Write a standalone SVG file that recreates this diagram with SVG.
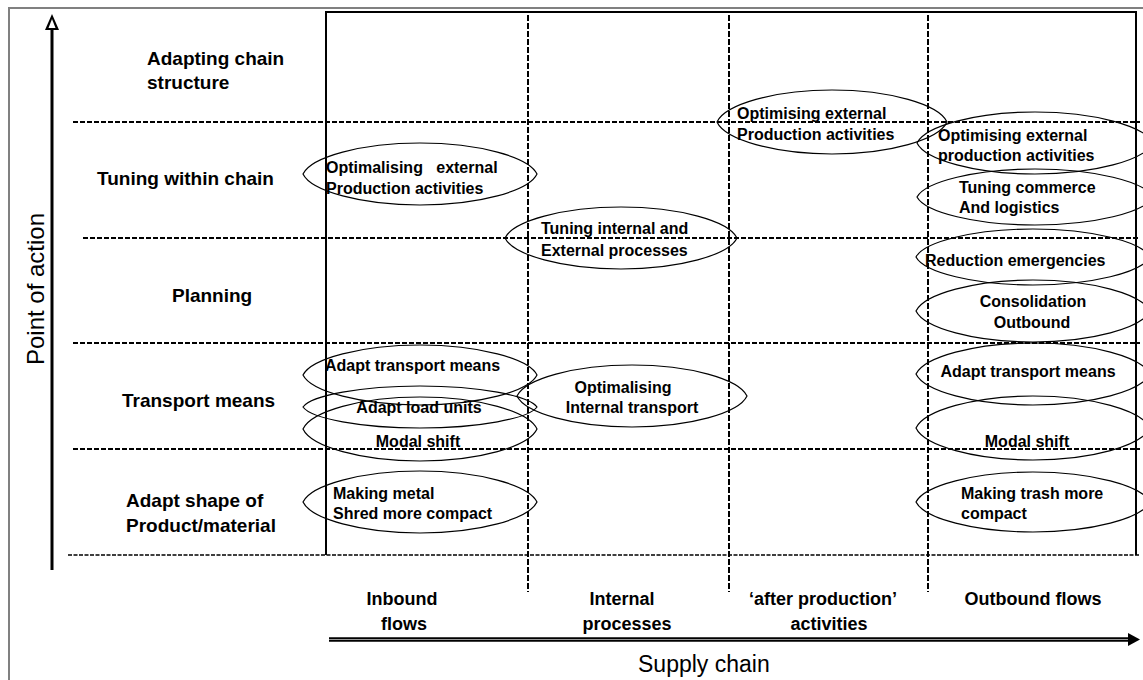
<svg xmlns="http://www.w3.org/2000/svg" xmlns:xlink="http://www.w3.org/1999/xlink" width="1143" height="680" viewBox="0 0 1143 680">
<style>
text{font-family:"Liberation Sans",Arial,sans-serif;fill:#000}
.row{font-size:19px;font-weight:bold}
.col{font-size:18px;font-weight:bold}
.el{font-size:16px;font-weight:bold}
.ax{font-size:23px}
.dash{stroke:#000;stroke-width:2.2;stroke-dasharray:5 2;fill:none}
.vdash{stroke:#000;stroke-width:2;stroke-dasharray:6 2;fill:none}
.lens{fill:none;stroke:#000;stroke-width:1.2}
</style>
<defs>
<path id="lens" d="M-1,0 C-0.93,-0.55 -0.5,-1 0,-1 C0.5,-1 0.93,-0.55 1,0 C0.93,0.55 0.5,1 0,1 C-0.5,1 -0.93,0.55 -1,0 Z" vector-effect="non-scaling-stroke"/>
</defs>
<rect x="0" y="0" width="1143" height="680" fill="#fff"/>
<rect x="9" y="8" width="1150" height="690" fill="none" stroke="#808080" stroke-width="2"/>
<g id="grid">
<path d="M326,12 H1136 M326,11 V555 M1136,11 V555" stroke="#000" stroke-width="2" fill="none"/>
<line class="dash" x1="73" y1="122" x2="1140" y2="122"/>
<line class="dash" x1="83" y1="238" x2="1140" y2="238"/>
<line class="dash" x1="73" y1="343" x2="1140" y2="343"/>
<line class="dash" x1="73" y1="449" x2="1140" y2="449"/>
<line x1="68" y1="555" x2="1140" y2="555" stroke="#000" stroke-width="1.3" stroke-dasharray="4 1.5"/>
<line class="vdash" x1="528" y1="15" x2="528" y2="592"/>
<line class="vdash" x1="729" y1="15" x2="729" y2="592"/>
<line class="vdash" x1="928" y1="15" x2="928" y2="592"/>
</g>
<g id="connectors">
<line x1="52" y1="570" x2="52" y2="27" stroke="#000" stroke-width="3"/>
<path d="M52,14 L59,30 L45,30 Z" fill="#000"/>
<path d="M52,19 L55.5,28 L48.5,28 Z" fill="#fff"/>
<line x1="329" y1="639.5" x2="1130" y2="639.5" stroke="#000" stroke-width="4.5"/>
<line x1="329" y1="639.5" x2="1130" y2="639.5" stroke="#999" stroke-width="1"/>
<path d="M1140,639.5 L1128,633 L1128,646 Z" fill="#000"/>
</g>
<g id="axis-labels">
<text class="ax" transform="translate(44,289) rotate(-90)" text-anchor="middle" style="font-size:24px">Point of action</text>
<text class="ax" x="638" y="672">Supply chain</text>
</g>
<g id="row-labels">
<text class="row" x="147" y="65">Adapting chain</text>
<text class="row" x="147" y="89">structure</text>
<text class="row" x="97" y="185">Tuning within chain</text>
<text class="row" x="172" y="302">Planning</text>
<text class="row" x="122" y="407">Transport means</text>
<text class="row" x="126" y="507">Adapt shape of</text>
<text class="row" x="126" y="532">Product/material</text>
</g>
<g id="col-labels">
<text class="col" x="402" y="605" text-anchor="middle">Inbound</text>
<text class="col" x="404" y="630" text-anchor="middle">flows</text>
<text class="col" x="622" y="605" text-anchor="middle">Internal</text>
<text class="col" x="627" y="630" text-anchor="middle">processes</text>
<text class="col" x="823" y="605" text-anchor="middle">‘after production’</text>
<text class="col" x="829" y="630" text-anchor="middle">activities</text>
<text class="col" x="1033" y="605" text-anchor="middle">Outbound flows</text>
</g>
<g id="n1"><use xlink:href="#lens" class="lens" transform="translate(420,174) scale(117,31)"/>
<text class="el" x="326" y="173" xml:space="preserve">Optimalising   external</text>
<text class="el" x="326" y="194">Production activities</text></g>
<g id="n2"><use xlink:href="#lens" class="lens" transform="translate(832,122) scale(115,32)"/>
<text class="el" x="737" y="119">Optimising external</text>
<text class="el" x="737" y="140">Production activities</text></g>
<g id="n3"><use xlink:href="#lens" class="lens" transform="translate(1035,143) scale(118,31)"/>
<text class="el" x="938" y="141">Optimising external</text>
<text class="el" x="938" y="161">production activities</text></g>
<g id="n4"><use xlink:href="#lens" class="lens" transform="translate(1035,197) scale(118,28)"/>
<text class="el" x="959" y="193">Tuning commerce</text>
<text class="el" x="959" y="213">And logistics</text></g>
<g id="n5"><use xlink:href="#lens" class="lens" transform="translate(621,238) scale(116,31)"/>
<text class="el" x="541" y="234">Tuning internal and</text>
<text class="el" x="541" y="256">External processes</text></g>
<g id="n6"><use xlink:href="#lens" class="lens" transform="translate(1033,257) scale(117,28)"/>
<text class="el" x="925" y="266">Reduction emergencies</text></g>
<g id="n7"><use xlink:href="#lens" class="lens" transform="translate(1033,311) scale(117,31)"/>
<text class="el" x="1033" y="307" text-anchor="middle">Consolidation</text>
<text class="el" x="1032" y="328" text-anchor="middle">Outbound</text></g>
<g id="n8"><use xlink:href="#lens" class="lens" transform="translate(1033,374) scale(117,31)"/>
<text class="el" x="1028" y="377" text-anchor="middle">Adapt transport means</text></g>
<g id="n9"><use xlink:href="#lens" class="lens" transform="translate(1033,428) scale(117,32)"/>
<text class="el" x="1027" y="447" text-anchor="middle">Modal shift</text></g>
<g id="n10"><use xlink:href="#lens" class="lens" transform="translate(1033,502) scale(117,30)"/>
<text class="el" x="961" y="499">Making trash more</text>
<text class="el" x="961" y="519">compact</text></g>
<g id="n11"><use xlink:href="#lens" class="lens" transform="translate(420,502) scale(117,31)"/>
<text class="el" x="333" y="499">Making metal</text>
<text class="el" x="333" y="519">Shred more compact</text></g>
<g id="n12"><use xlink:href="#lens" class="lens" transform="translate(420,375) scale(117,30)"/>
<text class="el" x="325" y="371">Adapt transport means</text></g>
<g id="n13"><use xlink:href="#lens" class="lens" transform="translate(420,407) scale(117,21)"/>
<text class="el" x="419" y="413" text-anchor="middle">Adapt load units</text></g>
<g id="n14"><use xlink:href="#lens" class="lens" transform="translate(420,429) scale(117,32)"/>
<text class="el" x="418" y="447" text-anchor="middle">Modal shift</text></g>
<g id="n15"><use xlink:href="#lens" class="lens" transform="translate(632,396) scale(115,31)"/>
<text class="el" x="623" y="393" text-anchor="middle">Optimalising</text>
<text class="el" x="632" y="413" text-anchor="middle">Internal transport</text></g>
</svg>
